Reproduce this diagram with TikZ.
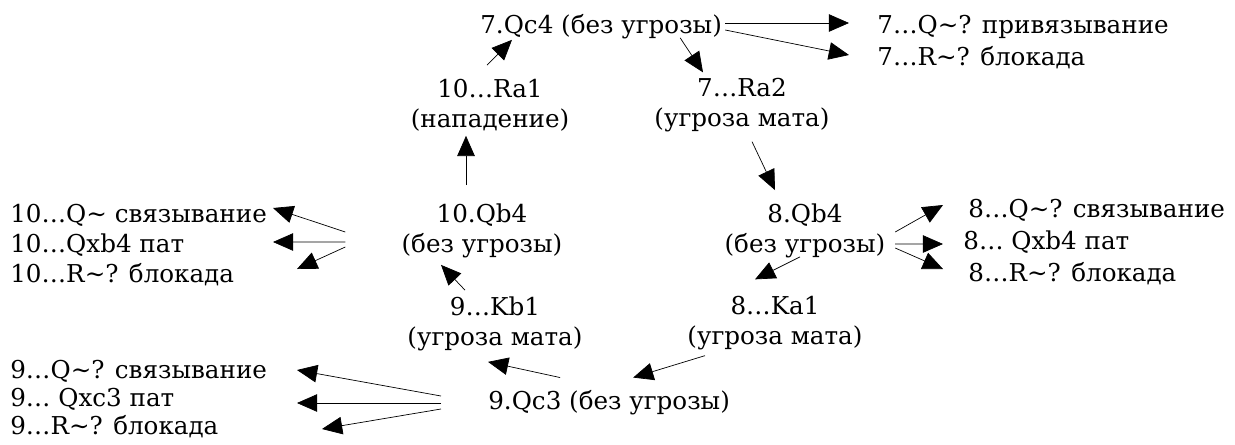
\documentclass[tikz,border=0pt]{standalone}
\usepackage{fontspec}
\setmainfont{DejaVu Serif}
\usetikzlibrary{arrows.meta, calc}
\tikzset{
  ->,  % every connector is directed
  >={Triangle[length=11.5pt, width=10pt]}, % big filled heads
  line width=1.2pt,
  move/.style={font=\fontsize{14pt}{17pt}\selectfont, inner sep=0pt, align=center}, % a move with its comment
  reply/.style={font=\fontsize{14pt}{17pt}\selectfont, inner sep=0pt, anchor=base west}, % a possible answer
}
\begin{document}
\begin{tikzpicture}[x=0.02cm, y=-0.02cm]
  \useasboundingbox (0,0) rectangle (1235,444);
  % main cycle
  \node[move, anchor=base west] (qc7) at (480,33) {7.Qc4 (без угрозы)};
  \node[move] (ra2) at (742,105.5) {7…Ra2\\(угроза мата)};
  \node[move] (qb8) at (805,230.5) {8.Qb4\\(без угрозы)};
  \node[move] (ka1) at (775,323.5) {8…Ka1\\(угроза мата)};
  \node[move, anchor=base west] (qc9) at (488,409) {9.Qc3 (без угрозы)};
  \node[move] (kb1) at (495,323.5) {9…Kb1\\(угроза мата)};
  \node[move] (qb10) at (482,230.5) {10.Qb4\\(без угрозы)};
  \node[move] (ra1) at (490,105.5) {10…Ra1\\(нападение)};

  % answers
  \node[reply] (o7a) at (877,33) {7…Q\textasciitilde? привязывание};
  \node[reply] (o7b) at (877,65) {7…R\textasciitilde? блокада};
  \node[reply] (o8a) at (968,217) {8…Q\textasciitilde? связывание};
  \node[reply] (o8b) at (963,249) {8… Qxb4 пат};
  \node[reply] (o8c) at (968,281) {8…R\textasciitilde? блокада};
  \node[reply] (o9a) at (10,378) {9…Q\textasciitilde? связывание};
  \node[reply] (o9b) at (10,406) {9… Qxc3 пат};
  \node[reply] (o9c) at (10,434) {9…R\textasciitilde? блокада};
  \node[reply] (o10a) at (10,222) {10…Q\textasciitilde{} связывание};
  \node[reply] (o10b) at (10,252) {10…Qxb4 пат};
  \node[reply] (o10c) at (10,282) {10…R\textasciitilde? блокада};

  % the cycle
  \draw ($(ra1.north)+(-3,-14)$) -- ($(qc7.south west)+(32,1)$);
  \draw ($(qc7.south)+(79,-1)$) -- ($(ra2.north)+(-39,-6)$);
  \draw ($(ra2.south)+(10,9)$) -- ($(qb8.north)+(-30,-13)$);
  \draw ($(qb8.south)+(-5,-1)$) -- ($(ka1.north)+(-20,-17)$);
  \draw ($(ka1.south)+(-70,5)$) -- ($(qc9.north)+(24,-12)$);
  \draw ($(qc9.north)+(-49,-12)$) -- ($(kb1.south)+(-7,11)$);
  \draw ($(kb1.north)+(-30,-6)$) -- ($(qb10.south)+(-41,7)$);
  \draw ($(qb10.north)+(-16,-18)$) -- ($(ra1.south)+(-24,4)$);

  % the fans
  \draw ($(qc7.base east)+(3,-10)$) -- ($(o7a.base west)+(-28,-10)$);
  \draw ($(qc7.base east)+(3,-3)$) -- ($(o7b.base west)+(-28,-10)$);
  \draw ($(qb8.east)+(9.5,1.5)$) -- ($(o8a.base west)+(-25,-12)$);
  \draw ($(qb8.east)+(9.5,13.5)$) -- ($(o8b.base west)+(-20,-5)$);
  \draw ($(qb8.east)+(9.5,17.5)$) -- ($(o8c.base west)+(-25,-12)$);
  \draw ($(qc9.base west)+(-47,-13)$) -- ($(o9a.base west)+(287,-8)$);
  \draw ($(qc9.base west)+(-47,-6)$) -- ($(o9b.base west)+(287,-3)$);
  \draw ($(qc9.base west)+(-47,0)$) -- ($(o9c.base west)+(312,-5)$);
  \draw ($(qb10.west)+(-56,1.5)$) -- ($(o10a.base west)+(263,-14)$);
  \draw ($(qb10.west)+(-56,11.5)$) -- ($(o10b.base west)+(263,-10)$);
  \draw ($(qb10.west)+(-56,16.5)$) -- ($(o10c.base west)+(287,-13)$);
\end{tikzpicture}
\end{document}
